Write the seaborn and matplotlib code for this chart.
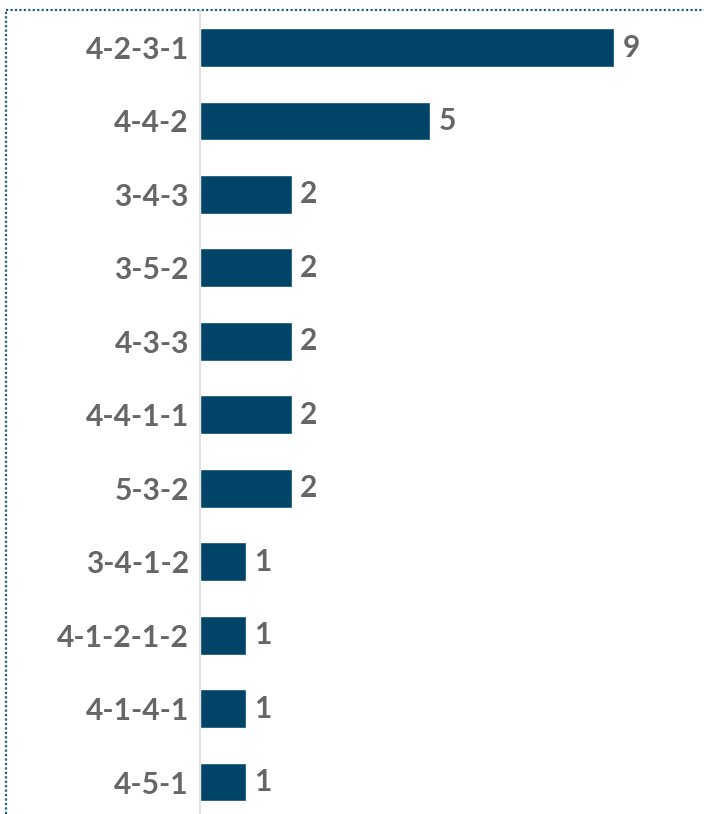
import matplotlib
matplotlib.use("Agg")
import matplotlib.pyplot as plt
import seaborn as sns
import pandas as pd
from matplotlib.lines import Line2D

formations = ["4-2-3-1", "4-4-2", "3-4-3", "3-5-2", "4-3-3", "4-4-1-1",
              "5-3-2", "3-4-1-2", "4-1-2-1-2", "4-1-4-1", "4-5-1"]
counts = [9, 5, 2, 2, 2, 2, 2, 1, 1, 1, 1]

BAR = "#004468"
GREY = "#666666"

df = pd.DataFrame({"formation": formations, "count": counts})

sns.set_style("white")
plt.rcParams["font.family"] = ["Lato", "DejaVu Sans"]

W, H = 704, 814
fig = plt.figure(figsize=(W / 100, H / 100), dpi=100)

# axes placed in pixels: left edge at the baseline, top under the border
left, top = 200, 10.8
ax = fig.add_axes([left / W, 0, 1 - left / W, (H - top) / H])

sns.barplot(data=df, x="count", y="formation", color=BAR, width=0.53,
            saturation=1, ax=ax)

px_per_unit = 46
ax.set_xlim(0, (W - left) / px_per_unit)
row = 73.45
ax.set_ylim(-0.5 + (H - top) / row, -0.5)

ax.set_xlabel("")
ax.set_ylabel("")
ax.set_xticks([])
ax.tick_params(axis="y", length=0, pad=8)
for lab in ax.get_yticklabels():
    lab.set_fontsize(21.5)
    lab.set_fontweight("bold")
    lab.set_color(GREY)

for s in ["top", "right", "bottom"]:
    ax.spines[s].set_visible(False)
ax.spines["left"].set_color("#dddddd")
ax.spines["left"].set_linewidth(1.2)

for container in ax.containers:
    ax.bar_label(container, padding=6, fontsize=21.5, fontweight="bold",
                 color=GREY)

# dotted frame along the top and left
fy = 1 - 10 / H
fx = 6 / W
frame = dict(transform=fig.transFigure, color="#1f6285",
             linestyle=(0, (1, 1)), linewidth=1.6)
fig.add_artist(Line2D([fx, 1], [fy, fy], **frame))
fig.add_artist(Line2D([fx, fx], [0, fy], **frame))

fig.savefig("out.png", dpi=100)
